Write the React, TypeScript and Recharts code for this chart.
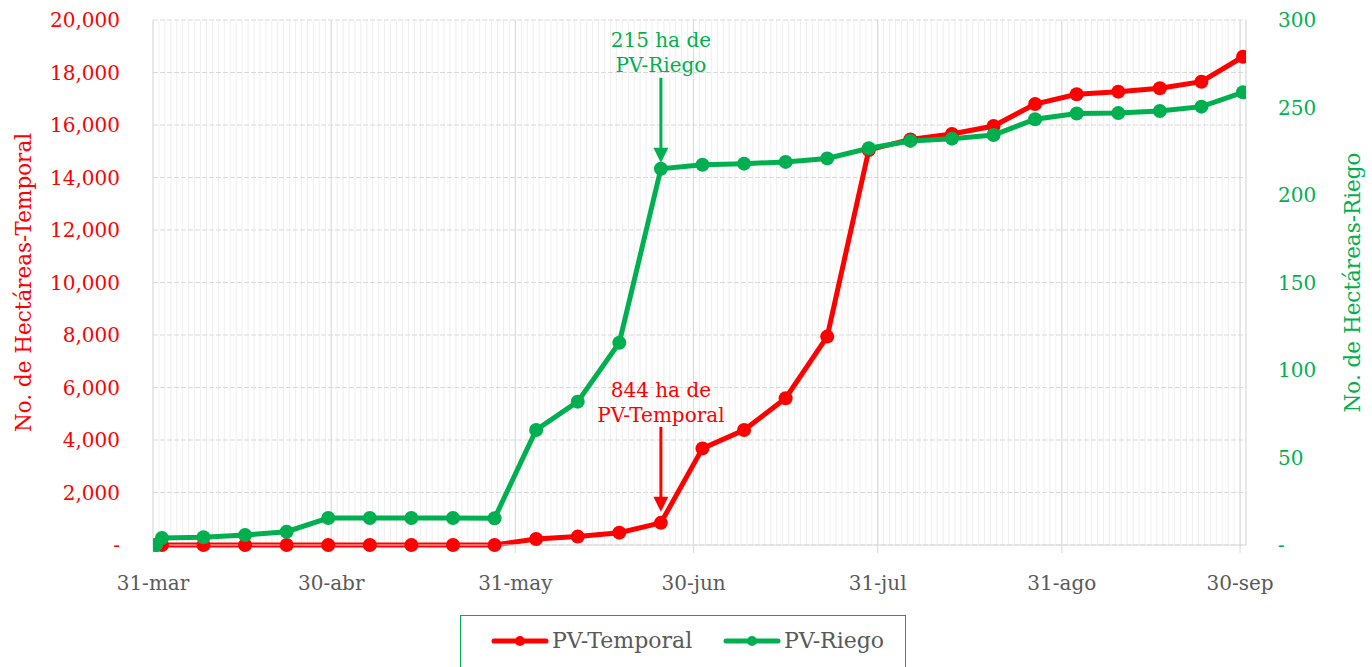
import { CartesianGrid, Line, LineChart, ReferenceDot, XAxis, YAxis } from "recharts";

// days counted from 31-mar; points sit in the middle of their day
const dayOffsets = [0, 1, 8, 15, 22, 29, 36, 43, 50, 57, 64, 71, 78, 85, 92, 99, 106, 113, 120, 127, 134, 141, 148, 155, 162, 169, 176, 183];
const temporalValues = [0, 0, 0, 0, 0, 0, 0, 0, 0, 0, 230, 320, 470, 844, 3680, 4380, 5590, 7940, 15050, 15450, 15660, 15960, 16800, 17170, 17270, 17400, 17650, 18600];
const riegoValues = [0, 4, 4.4, 5.7, 7.6, 15.4, 15.4, 15.4, 15.4, 15.3, 65.7, 81.9, 115.6, 215, 217.3, 217.9, 218.9, 220.9, 226.7, 230.9, 232.2, 234.3, 243.3, 246.6, 246.8, 248, 250.5, 258.7];

const monthTicks = [0, 30, 61, 91, 122, 153, 183];
const monthLabels = ["31-mar", "30-abr", "31-may", "30-jun", "31-jul", "31-ago", "30-sep"];
const leftTicks = [0, 2000, 4000, 6000, 8000, 10000, 12000, 14000, 16000, 18000, 20000];
const rightTicks = [0, 50, 100, 150, 200, 250, 300];
const seriesNames = ["PV-Temporal", "PV-Riego"];
const dayGrid = Array.from({ length: 185 }, (_, i) => i);

const RED = "#ff0000";
const GREEN = "#00b050";
const GRAY = "#595959";
const FONT = "'DejaVu Serif', serif";

const data = dayOffsets.map((day, i) => ({
  x: day + 0.5,
  temporal: temporalValues[i],
  riego: riegoValues[i]
}));

const fmt = (v: number) => (v === 0 ? "-" : v.toLocaleString("en-US"));

function AxisTitle({ viewBox, value, color, side }: any) {
  const { x, y, width, height } = viewBox;
  const cx = side === "left" ? x + 23 : x + width - 20;
  const cy = y + height / 2;
  return (
    <text
      x={cx}
      y={cy}
      transform={`rotate(-90 ${cx} ${cy})`}
      textAnchor="middle"
      dominantBaseline="central"
      fill={color}
      fontSize={21.5}
      fontFamily={FONT}
    >
      {value}
    </text>
  );
}

function Callout({ cx, cy, color, lines, textTop, arrowTop, tipGap }: any) {
  const tip = cy - tipGap;
  return (
    <g>
      {lines.map((t: string, i: number) => (
        <text key={t} x={cx} y={cy - textTop + i * 25} textAnchor="middle" dominantBaseline="central" fill={color} fontSize={20} fontFamily={FONT}>
          {t}
        </text>
      ))}
      <line x1={cx} x2={cx} y1={cy - arrowTop} y2={tip - 12} stroke={color} strokeWidth={3} />
      <path d={`M${cx - 7.5},${tip - 15} L${cx + 7.5},${tip - 15} L${cx},${tip} Z`} fill={color} />
    </g>
  );
}

function LegendBox() {
  const colors = [RED, GREEN];
  const lefts = [490, 722];
  return (
    <div style={{ position: "absolute", left: 460, top: 615, width: 446, height: 60, border: `1px solid ${GREEN}`, boxSizing: "border-box" }}>
      {seriesNames.map((name, i) => (
        <div key={name} style={{ position: "absolute", left: lefts[i] - 460, top: 11, display: "flex", alignItems: "center" }}>
          <svg width={58} height={14}>
            <line x1={3} x2={55} y1={7} y2={7} stroke={colors[i]} strokeWidth={5} strokeLinecap="round" />
            <circle cx={29} cy={7} r={5} fill={colors[i]} />
          </svg>
          <span style={{ fontFamily: FONT, fontSize: 22, color: GRAY, marginLeft: 3, lineHeight: "28px" }}>{name}</span>
        </div>
      ))}
    </div>
  );
}

export default function App() {
  const mark = 13;
  return (
    <div style={{ position: "relative", width: 1372, height: 667, overflow: "hidden" }}>
      <style>{`body{margin:0}`}</style>
      <LineChart width={1372} height={667} data={data} margin={{ top: 20, right: 0, bottom: 62, left: 0 }}>
        <XAxis
          xAxisId="main"
          type="number"
          dataKey="x"
          domain={[0, 184]}
          ticks={monthTicks}
          interval={0}
          allowDataOverflow
          tickFormatter={(v: number) => monthLabels[monthTicks.indexOf(v)]}
          height={60}
          stroke="#d9d9d9"
          tickSize={8}
          tickMargin={23}
          tick={{ fill: GRAY, fontSize: 20, fontFamily: FONT }}
        />
        <XAxis xAxisId="days" type="number" dataKey="x" domain={[0, 184]} ticks={dayGrid} interval={0} height={0} hide allowDataOverflow />
        <CartesianGrid xAxisId="days" yAxisId="left" horizontal={false} stroke="#efefef" strokeWidth={1} />
        <CartesianGrid xAxisId="main" yAxisId="left" vertical={false} stroke="#d9d9d9" strokeDasharray="5 2" />
        <CartesianGrid xAxisId="main" yAxisId="left" horizontal={false} stroke="#d9d9d9" />
        <YAxis
          yAxisId="left"
          width={153}
          domain={[0, 20000]}
          ticks={leftTicks}
          interval={0}
          axisLine={false}
          tickLine={false}
          tickSize={0}
          tickMargin={33}
          tickFormatter={fmt}
          tick={{ fill: RED, fontSize: 20, fontFamily: FONT }}
          label={{ content: (p: any) => <AxisTitle viewBox={p.viewBox} value="No. de Hectáreas-Temporal" color={RED} side="left" /> }}
        />
        <YAxis
          yAxisId="right"
          orientation="right"
          width={126}
          domain={[0, 300]}
          ticks={rightTicks}
          interval={0}
          axisLine={false}
          tickLine={false}
          tickSize={0}
          tickMargin={32}
          tickFormatter={fmt}
          tick={{ fill: GREEN, fontSize: 20, fontFamily: FONT }}
          label={{ content: (p: any) => <AxisTitle viewBox={p.viewBox} value="No. de Hectáreas-Riego" color={GREEN} side="right" /> }}
        />
        <Line
          xAxisId="main"
          yAxisId="left"
          dataKey="temporal"
          name={seriesNames[0]}
          stroke={RED}
          strokeWidth={5}
          dot={{ r: 7, fill: RED, stroke: RED, strokeWidth: 0 }}
          isAnimationActive={false}
        />
        <Line
          xAxisId="main"
          yAxisId="right"
          dataKey="riego"
          name={seriesNames[1]}
          stroke={GREEN}
          strokeWidth={5}
          dot={{ r: 7, fill: GREEN, stroke: GREEN, strokeWidth: 0 }}
          isAnimationActive={false}
        />
        <ReferenceDot
          xAxisId="main"
          yAxisId="right"
          x={data[mark].x}
          y={riegoValues[mark]}
          r={0}
          shape={(p: any) => <Callout cx={p.cx} cy={p.cy} color={GREEN} lines={["215 ha de", "PV-Riego"]} textTop={129} arrowTop={91} tipGap={6} />}
        />
        <ReferenceDot
          xAxisId="main"
          yAxisId="left"
          x={data[mark].x}
          y={temporalValues[mark]}
          r={0}
          shape={(p: any) => <Callout cx={p.cx} cy={p.cy} color={RED} lines={["844 ha de", "PV-Temporal"]} textTop={133} arrowTop={96} tipGap={11} />}
        />
      </LineChart>
      <LegendBox />
    </div>
  );
}
